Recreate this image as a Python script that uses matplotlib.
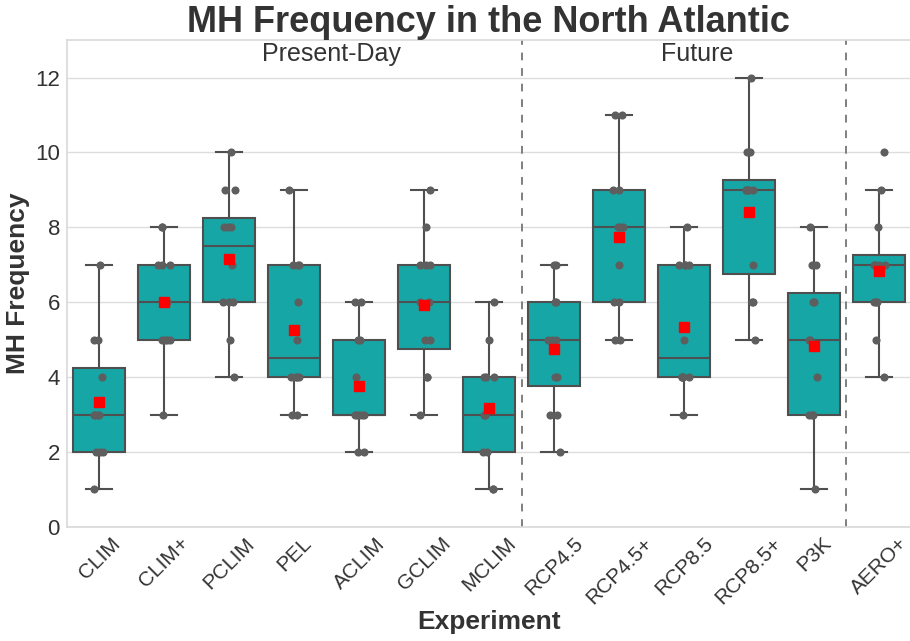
import numpy as np
import matplotlib
matplotlib.use("Agg")
import matplotlib.pyplot as plt

plt.rcParams['font.family'] = ['Liberation Sans', 'DejaVu Sans']

experiments = ["CLIM", "CLIM+", "PCLIM", "PEL", "ACLIM", "GCLIM", "MCLIM",
               "RCP4.5", "RCP4.5+", "RCP8.5", "RCP8.5+", "P3K", "AERO+"]

clim    = [1, 2, 2, 2, 3, 3, 3, 3, 4, 5, 5, 7]
climp   = [3, 5, 5, 5, 5, 6, 6, 7, 7, 7, 8, 8]
pclim   = [4, 5, 6, 6, 6, 7, 8, 8, 8, 9, 9, 10]
pel     = [3, 3, 4, 4, 4, 4, 5, 6, 7, 7, 7, 9]
aclim   = [2, 2, 3, 3, 3, 3, 3, 4, 5, 5, 6, 6]
gclim   = [3, 4, 4, 5, 5, 6, 6, 7, 7, 7, 8, 9]
mclim   = [1, 1, 2, 2, 3, 3, 3, 4, 4, 4, 5, 6]
rcp45   = [2, 3, 3, 4, 4, 5, 5, 5, 6, 6, 7, 7]
rcp45p  = [5, 5, 6, 6, 7, 8, 8, 8, 9, 9, 11, 11]
rcp85   = [3, 4, 4, 4, 4, 4, 5, 7, 7, 7, 7, 8]
rcp85p  = [5, 6, 6, 7, 9, 9, 9, 9, 9, 10, 10, 12]
p3k     = [1, 3, 3, 3, 4, 5, 5, 6, 6, 7, 7, 8]
aerop   = [4, 5, 6, 6, 6, 7, 7, 7, 7, 8, 9, 10]

data = [clim, climp, pclim, pel, aclim, gclim, mclim,
        rcp45, rcp45p, rcp85, rcp85p, p3k, aerop]

group_labels = ["Present-Day", "Future"]

box_color = "#17a6a6"
edge = "#4f4f4f"
dot = "#5e5e5e"

fig = plt.figure(figsize=(9.10, 6.41), dpi=100)
ax = fig.add_axes([0.0735, 0.178, 0.928, 0.7595])

pos = np.arange(len(experiments))
bp = ax.boxplot(data, positions=pos, widths=0.8, whis=2.0, showfliers=False,
                patch_artist=True,
                boxprops=dict(facecolor=box_color, edgecolor=edge, linewidth=1.5),
                medianprops=dict(color=edge, linewidth=1.5),
                whiskerprops=dict(color=edge, linewidth=1.5),
                capprops=dict(color=edge, linewidth=1.5),
                zorder=2)

rng = np.random.default_rng(3)
for i, vals in enumerate(data):
    v = np.asarray(vals, dtype=float)
    xj = i + rng.uniform(-0.1, 0.1, size=len(v))
    ax.scatter(xj, v, s=34, color=dot, zorder=3, linewidths=0)
    ax.plot([i], [v.mean()], marker='s', color='red', markersize=7,
            linestyle='none', zorder=4)

ax.axvline(6.5, color="#7f7f7f", linestyle=(0, (4, 4)), linewidth=1.4, zorder=1)
ax.axvline(11.5, color="#7f7f7f", linestyle=(0, (4, 4)), linewidth=1.4, zorder=1)

ax.text(3.58, 12.62, group_labels[0], ha='center', va='center', fontsize=18, color="#333333")
ax.text(9.2, 12.62, group_labels[1], ha='center', va='center', fontsize=18, color="#333333")

ax.set_xlim(-0.5, len(experiments) - 0.5)
ax.set_ylim(0, 13)
ax.set_yticks([0, 2, 4, 6, 8, 10, 12])
ax.set_xticks(pos)
ax.set_xticklabels(experiments, rotation=45, ha='center')
ax.tick_params(axis='y', labelsize=16, colors="#333333", length=0, pad=5)
ax.tick_params(axis='x', labelsize=15, colors="#333333", length=0, pad=5)
ax.yaxis.grid(True, color="#dddddd", linewidth=1, zorder=0)
ax.xaxis.grid(False)
ax.set_axisbelow(True)
for s in ax.spines.values():
    s.set_color("#d9d9d9")
    s.set_linewidth(1.2)

ax.set_ylabel("MH Frequency", fontsize=19, fontweight='bold', color="#333333", labelpad=4)
ax.set_xlabel("Experiment", fontsize=19, fontweight='bold', color="#333333", labelpad=2)
fig.suptitle("MH Frequency in the North Atlantic", x=0.537, y=0.992, fontsize=26,
             fontweight='bold', color="#333333")

fig.savefig("out.png", dpi=100)
